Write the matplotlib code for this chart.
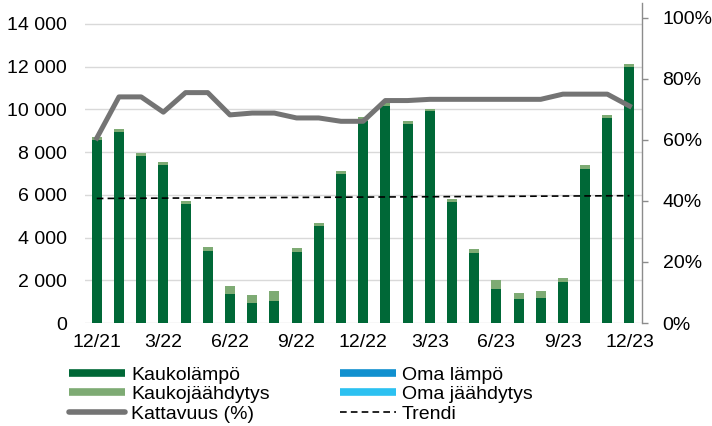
import matplotlib
matplotlib.use("Agg")
import matplotlib.pyplot as plt
from matplotlib.lines import Line2D
from matplotlib.ticker import FuncFormatter

plt.rcParams['font.family'] = ['Liberation Sans', 'DejaVu Sans']

# Kuukaudet 12/21 - 12/23
kuukaudet = ["12/21", "1/22", "2/22", "3/22", "4/22", "5/22", "6/22", "7/22", "8/22",
             "9/22", "10/22", "11/22", "12/22", "1/23", "2/23", "3/23", "4/23", "5/23",
             "6/23", "7/23", "8/23", "9/23", "10/23", "11/23", "12/23"]

kaukolampo = [8560, 8940, 7820, 7380, 5590, 3390, 1340, 950, 1030, 3340, 4560, 6990,
              9450, 10160, 9330, 9940, 5680, 3260, 1590, 1140, 1190, 1900, 7220, 9610, 12000]
kaukojaahdytys = [140, 140, 120, 160, 120, 170, 380, 380, 470, 170, 140, 110,
                  210, 130, 110, 90, 130, 200, 420, 260, 310, 190, 180, 130, 140]
oma_lampo = [0] * 25
oma_jaahdytys = [0] * 25
kattavuus = [0.606, 0.741, 0.741, 0.691, 0.755, 0.755, 0.682, 0.688, 0.688, 0.672,
             0.672, 0.661, 0.661, 0.729, 0.729, 0.733, 0.733, 0.733, 0.733, 0.733,
             0.733, 0.750, 0.750, 0.750, 0.711]
trendi_alku = 5830
trendi_loppu = 5960

tick_labels = ["12/21", "3/22", "6/22", "9/22", "12/22", "3/23", "6/23", "9/23", "12/23"]

c_kl = '#006837'
c_kj = '#7EAB74'
c_ol = '#1190CF'
c_oj = '#2CC1F1'
c_kat = '#747474'
fs = 14

fig = plt.figure(figsize=(7.12, 4.26), dpi=100)
ax = fig.add_axes([85 / 712, 103 / 426, (641.7 - 85) / 712, (423.4 - 103) / 426])

x = list(range(len(kuukaudet)))
w = 0.45
ax.bar(x, kaukolampo, width=w, color=c_kl, zorder=2)
ax.bar(x, kaukojaahdytys, width=w, bottom=kaukolampo, color=c_kj, zorder=2)
pohja = [a + b for a, b in zip(kaukolampo, kaukojaahdytys)]
ax.bar(x, oma_lampo, width=w, bottom=pohja, color=c_ol, zorder=2)
pohja = [a + b for a, b in zip(pohja, oma_lampo)]
ax.bar(x, oma_jaahdytys, width=w, bottom=pohja, color=c_oj, zorder=2)

ax.plot([x[0], x[-1]], [trendi_alku, trendi_loppu], color='black', lw=1.2,
        dashes=(4, 2.5), zorder=3)

ax.set_xlim(-0.53, 24.55)
ax.set_ylim(0, 15000)
ax.set_yticks(range(0, 14001, 2000))
ax.yaxis.set_major_formatter(FuncFormatter(lambda v, p: f"{v:,.0f}".replace(",", " ")))
ax.set_xticks([kuukaudet.index(t) for t in tick_labels])
ax.set_xticklabels(tick_labels)
ax.grid(axis='y', color='#D9D9D9', lw=1.0, zorder=0)
ax.set_axisbelow(True)
for s in ax.spines.values():
    s.set_visible(False)
ax.tick_params(axis='both', length=0, labelsize=fs, colors='black')
ax.tick_params(axis='y', pad=13)
ax.tick_params(axis='x', pad=8)

ax2 = ax.twinx()
ax2.plot(x, kattavuus, color=c_kat, lw=3.6, solid_joinstyle='round', zorder=4)
ax2.set_ylim(0, 1.05)
ax2.set_yticks([0, 0.2, 0.4, 0.6, 0.8, 1.0])
ax2.yaxis.set_major_formatter(FuncFormatter(lambda v, p: f"{v * 100:.0f}%"))
for k, s in ax2.spines.items():
    s.set_visible(k == 'right')
ax2.spines['right'].set_color('#8C8C8C')
ax2.spines['right'].set_linewidth(1.0)
ax2.tick_params(axis='y', length=4, width=1.0, color='#8C8C8C', labelsize=fs, pad=11)

handles = [
    Line2D([], [], color=c_kl, lw=5.5, solid_capstyle='butt'),
    Line2D([], [], color=c_kj, lw=5.5, solid_capstyle='butt'),
    Line2D([], [], color=c_kat, lw=4, solid_capstyle='round'),
    Line2D([], [], color=c_ol, lw=5.5, solid_capstyle='butt'),
    Line2D([], [], color=c_oj, lw=5.5, solid_capstyle='butt'),
    Line2D([], [], color='black', lw=1.2, dashes=(4, 2.5)),
]
labels = ["Kaukolämpö", "Kaukojäähdytys", "Kattavuus (%)", "Oma lämpö", "Oma jäähdytys", "Trendi"]
fig.legend(handles, labels, ncol=2, loc='upper left', bbox_to_anchor=(69 / 712, 1 - 366 / 426),
           frameon=False, fontsize=fs, handlelength=2.9, handletextpad=0.3,
           columnspacing=3.6, labelspacing=0.1, borderpad=0, borderaxespad=0)

fig.savefig("out.png", dpi=100)
